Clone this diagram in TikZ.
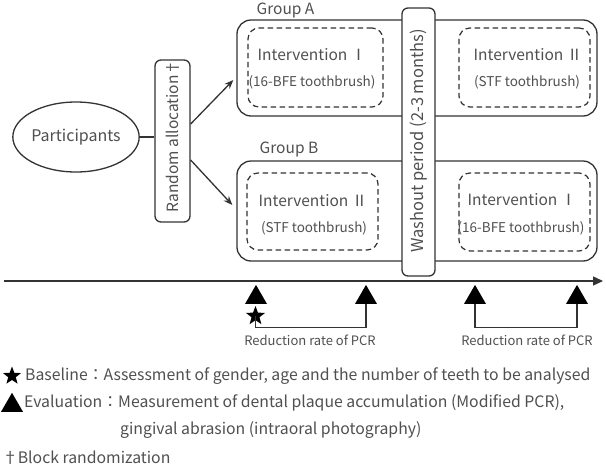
\documentclass[tikz,border=0pt]{standalone}
\usepackage{fontspec}
\setmainfont{Noto Sans CJK JP}
\usetikzlibrary{shapes.geometric,arrows.meta,calc}
\definecolor{ink}{HTML}{333333}
\definecolor{txt}{HTML}{505050}
\newcommand{\dg}{\makebox[10pt][c]{†}}
\begin{document}
\begin{tikzpicture}[x=1pt,y=-1pt,
  line/.style={draw=ink,line width=1.3pt},
  groupbox/.style={line,rounded corners=14pt,inner sep=0pt},
  ivbox/.style={draw=ink,line width=1.25pt,dash pattern=on 5.5pt off 3.5pt,rounded corners=11pt,inner sep=0pt},
  vbox/.style={line,fill=white,rounded corners=6pt,inner sep=0pt},
  ivtitle/.style={text=txt,font=\fontsize{15.5}{18}\selectfont,inner sep=0pt},
  ivsub/.style={text=txt,font=\fontsize{13.5}{16}\selectfont,inner sep=0pt},
  lbl/.style={text=txt,font=\fontsize{15.5}{18}\selectfont,inner sep=0pt},
  note/.style={text=txt,font=\fontsize{15.8}{19}\selectfont,inner sep=0pt,anchor=west},
  small/.style={text=txt,font=\fontsize{13}{16}\selectfont,inner sep=0pt},
  tri/.style={regular polygon,regular polygon sides=3,fill=black,inner sep=0pt,minimum size=25.4pt},
  starmark/.style={star,star points=5,star point ratio=2.4,fill=black,inner sep=0pt,minimum size=20pt},
  arr/.style={line,-{Stealth[length=9pt,width=7pt]}}
]
\useasboundingbox (0,0) rectangle (606,469);
\fill[white] (0,0) rectangle (606,469);

% participants and allocation
\node[draw=ink,line width=1.3pt,ellipse,minimum width=110pt,minimum height=70pt,inner sep=0pt,text=txt,
      font=\fontsize{16}{19}\selectfont] (part) at (76,137) {Participants};
\node[vbox,minimum width=35pt,minimum height=162pt] (rnd) at (172.5,141) {};
\node[lbl,rotate=90] (rndtext) at (172.5,137.5) {Random allocation\,\dg};
\draw[line] (part.east) -- (part.east -| rnd.west);

% group boxes
\node[groupbox,minimum width=360pt,minimum height=96pt] (gA) at (417,68) {};
\node[groupbox,minimum width=360pt,minimum height=100pt] (gB) at (417,211) {};
\node[lbl] (gAlabel) at (285.5,10) {Group A};
\node[lbl] (gBlabel) at (289,149) {Group B};

\draw[arr] ([yshift=17pt]rnd.east) -- ([xshift=-3pt,yshift=-12pt]gA.west);
\draw[arr] ([yshift=-19pt]rnd.east) -- ([xshift=-4pt,yshift=6pt]gB.west);

% intervention periods
\node[ivbox,minimum width=135pt,minimum height=79pt] (a1) at (315.5,67.5) {};
\node[ivbox,minimum width=131pt,minimum height=79pt] (a2) at (524.5,67.5) {};
\node[ivbox,minimum width=131pt,minimum height=77pt] (b1) at (312.5,211.5) {};
\node[ivbox,minimum width=131pt,minimum height=78pt] (b2) at (524.5,212) {};

\node[ivtitle] (a1t) at (312,55) {Intervention Ⅰ};
\node[ivsub]   (a1s) at (312,82) {(16-BFE toothbrush)};
\node[ivtitle] (a2t) at (528,55) {Intervention Ⅱ};
\node[ivsub]   (a2s) at (527,82) {(STF toothbrush)};
\node[ivtitle] (b1t) at (313,201) {Intervention Ⅱ};
\node[ivsub]   (b1s) at (314,228) {(STF toothbrush)};
\node[ivtitle] (b2t) at (522,200) {Intervention Ⅰ};
\node[ivsub]   (b2s) at (521,228) {(16-BFE toothbrush)};

% washout period
\node[vbox,minimum width=33pt,minimum height=268pt] (wash) at (418.5,142) {};
\node[lbl,rotate=90,font=\fontsize{16.5}{19}\selectfont] (washtext) at (418.5,141) {Washout period (2-3 months)};

% time axis
\coordinate (t0) at (4,281);
\coordinate (tend) at (603,281);
\draw[line,-{Triangle[length=10pt,width=9pt]}] (t0) -- (tend);

\node[tri] (e1) at (256,297.6) {};
\node[tri] (e2) at (366,297.6) {};
\node[tri] (e3) at (475,297.6) {};
\node[tri] (e4) at (577,297.6) {};
\node[starmark] (base) at (255.5,316) {};

\draw[line,line width=1.1pt] (base.center) |- ($(e2.south)+(0,23)$) -- (e2.south);
\draw[line,line width=1.1pt] (e3.south) -- ++(0,23) -| (e4.south);
\node[small] (red1) at (310,340) {Reduction rate of PCR};
\node[small] (red2) at (527,340) {Reduction rate of PCR};

% legend
\node[starmark,minimum size=19pt] (kstar) at (12,376) {};
\node[note] (kbase) at (25,376) {Baseline：Assessment of gender, age and the number of teeth to be analysed};
\node[tri] (ktri) at (12,405.5) {};
\node[note] (keval) at (24,403) {Evaluation：Measurement of dental plaque accumulation (Modified PCR),};
\node[note] (keval2) at (120,430) {gingival abrasion (intraoral photography)};
\node[note] (kdag) at (5,458) {\dg\,Block randomization};
\end{tikzpicture}
\end{document}
